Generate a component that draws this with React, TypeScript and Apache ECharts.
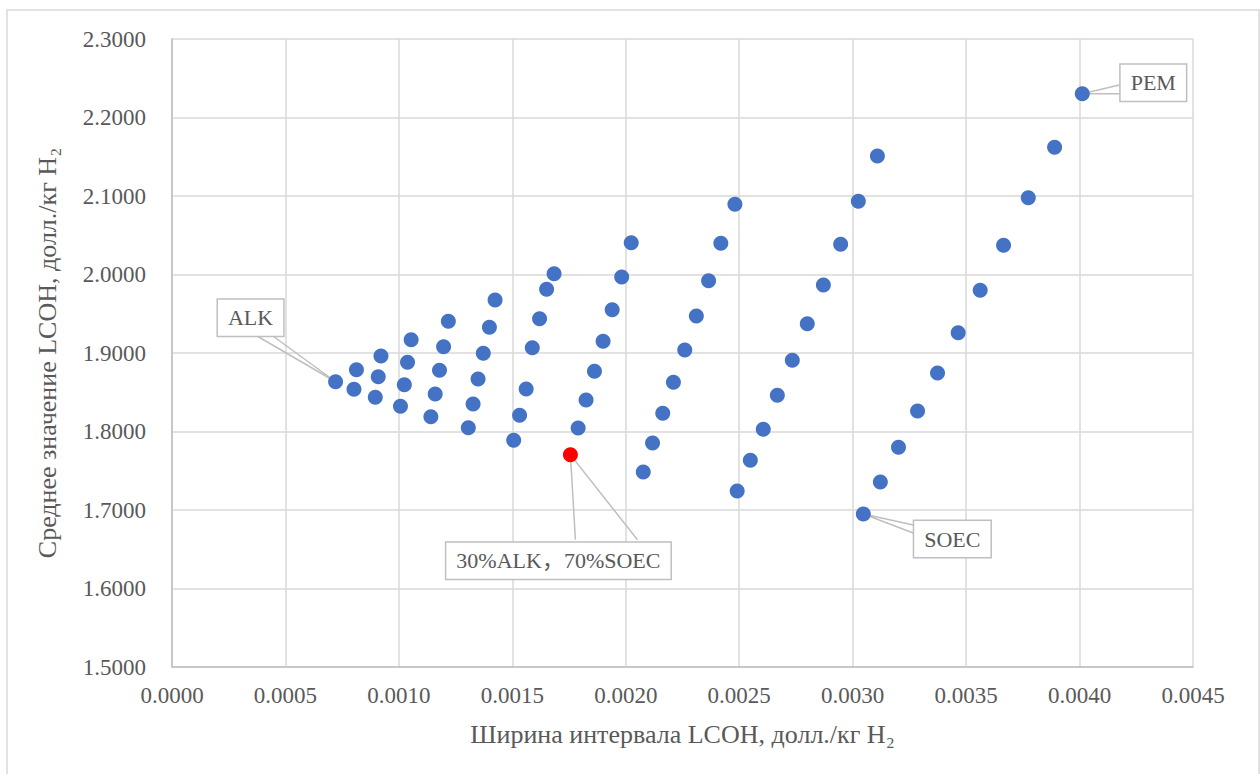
import React, { useEffect, useRef } from 'react';
import * as echarts from 'echarts';

// Interval width of LCOH (x) and mean LCOH (y), grouped by ALK share (100% → 0%)
const intervalWidth = [
  0.000721,
  0.000802, 0.000813,
  0.000896, 0.000909, 0.000921,
  0.001007, 0.001024, 0.001038, 0.001054,
  0.001141, 0.00116, 0.001179, 0.001197, 0.001218,
  0.001306, 0.001327, 0.001349, 0.001372, 0.001399, 0.001424,
  0.001506, 0.001532, 0.001561, 0.001588, 0.00162, 0.001651, 0.001684,
  0.001756, 0.00179, 0.001825, 0.001862, 0.0019, 0.00194, 0.001982, 0.002024,
  0.002077, 0.002118, 0.002163, 0.00221, 0.00226, 0.002311, 0.002365, 0.002419, 0.002481,
  0.002491, 0.002549, 0.002606, 0.002668, 0.002734, 0.0028, 0.002871, 0.002947, 0.003025, 0.003109,
  0.003047, 0.003122, 0.003202, 0.003286, 0.003374, 0.003465, 0.003562, 0.003665, 0.003774, 0.00389, 0.004012,
];
const meanLcoh = [
  1.8634,
  1.8538, 1.8787,
  1.8436, 1.8698, 1.8962,
  1.8321, 1.8596, 1.8881, 1.9169,
  1.8188, 1.8478, 1.878, 1.908, 1.9404,
  1.8048, 1.835, 1.8669, 1.8996, 1.9327, 1.9675,
  1.7888, 1.8206, 1.8541, 1.9067, 1.9437, 1.9811, 2.001,
  1.7704, 1.8045, 1.8401, 1.8767, 1.9149, 1.9552, 1.9968, 2.0405,
  1.7484, 1.7853, 1.8232, 1.8627, 1.9038, 1.9471, 1.9921, 2.0397, 2.0894,
  1.7242, 1.7633, 1.8028, 1.8461, 1.8907, 1.9373, 1.9866, 2.0385, 2.0932, 2.151,
  1.6949, 1.7357, 1.7799, 1.8261, 1.8745, 1.9259, 1.9799, 2.0372, 2.0978, 2.162, 2.2303,
];
const labelNames = ['ALK', '30%ALK，70%SOEC', 'SOEC', 'PEM'];
const labelIndices = [0, 28, 55, 65];
const highlightIndex = 28;

const xTicks = { min: 0, max: 0.0045, interval: 0.0005 };
const yTicks = { min: 1.5, max: 2.3, interval: 0.1 };

const xTitle = 'Ширина интервала LCOH, долл./кг H₂';
const yTitle = 'Среднее значение LCOH, долл./кг H₂';

const FONT = "'Liberation Serif', 'Times New Roman', 'Noto Sans CJK SC', serif";
const TEXT = '#595959';

// label placement (px, relative to the point): box offset and wedge-shaped leader base points
const labelPlacement: Record<number, { d: [number, number]; a: [number, number]; b: [number, number] }> = {
  0: { d: [-85, -64], a: [-79, -46], b: [-63, -46] },
  28: { d: [-12, 106], a: [5, 85], b: [67, 85] },
  55: { d: [89, 25], a: [50, 11], b: [50, 19] },
  65: { d: [71, -11], a: [38, -9], b: [38, 0] },
};

export default function App() {
  const ref = useRef<HTMLDivElement>(null);
  useEffect(() => {
    const chart = echarts.init(ref.current!, null, { renderer: 'svg' });
    const data = intervalWidth.map((x, i) => {
      const li = labelIndices.indexOf(i);
      const item: any = { value: [x, meanLcoh[i]] };
      if (i === highlightIndex) item.itemStyle = { color: '#FF0000' };
      if (li >= 0) {
        item.label = {
          show: true,
          formatter: labelNames[li],
          position: 'inside',
          color: TEXT,
          fontSize: 22,
          fontFamily: FONT,
          backgroundColor: '#ffffff',
          borderColor: '#bfbfbf',
          borderWidth: 1.5,
          padding: [7, 10],
        };
      }
      return item;
    });
    const border = {
      type: 'rect',
      silent: true,
      z: -10,
      shape: { x: 7, y: 10, width: 1252, height: 800 },
      style: { fill: 'none', stroke: '#d9d9d9', lineWidth: 1.5 },
    };
    chart.setOption({
      animation: false,
      backgroundColor: '#ffffff',
      graphic: [border],
      grid: { left: 172, top: 39, width: 1021, height: 628 },
      xAxis: {
        type: 'value',
        min: xTicks.min,
        max: xTicks.max,
        interval: xTicks.interval,
        name: xTitle,
        nameLocation: 'middle',
        nameGap: 54,
        nameTextStyle: { color: TEXT, fontSize: 26, fontFamily: FONT },
        axisLine: { show: true, lineStyle: { color: '#bfbfbf', width: 1.5 } },
        axisTick: { show: false },
        axisLabel: {
          color: TEXT,
          fontSize: 23,
          fontFamily: FONT,
          margin: 17,
          formatter: (v: number) => v.toFixed(4),
        },
        splitLine: { show: true, lineStyle: { color: '#d9d9d9', width: 1.5 } },
      },
      yAxis: {
        type: 'value',
        min: yTicks.min,
        max: yTicks.max,
        interval: yTicks.interval,
        name: yTitle,
        nameLocation: 'middle',
        nameGap: 112,
        nameTextStyle: { color: TEXT, fontSize: 26, fontFamily: FONT },
        axisLine: { show: true, lineStyle: { color: '#bfbfbf', width: 1.5 } },
        axisTick: { show: false },
        axisLabel: {
          color: TEXT,
          fontSize: 23,
          fontFamily: FONT,
          margin: 26,
          formatter: (v: number) => v.toFixed(4),
        },
        splitLine: { show: true, lineStyle: { color: '#d9d9d9', width: 1.5 } },
      },
      series: [
        {
          type: 'scatter',
          symbol: 'circle',
          symbolSize: 15,
          z: 3,
          itemStyle: { color: '#4472C4', opacity: 1 },
          label: { show: false },
          labelLayout: (params: any) => {
            const p = labelPlacement[params.dataIndex];
            if (!p) return {};
            return { dx: p.d[0], dy: p.d[1] };
          },
          data,
        },
      ],
    });
    // wedge-shaped leader lines, anchored at the points through the chart's own scales
    const leaders = labelIndices.map((idx) => {
      const [cx, cy] = chart.convertToPixel({ gridIndex: 0 }, [intervalWidth[idx], meanLcoh[idx]]) as number[];
      const p = labelPlacement[idx];
      return {
        type: 'polyline',
        silent: true,
        z: 2,
        shape: {
          points: [
            [cx + p.a[0], cy + p.a[1]],
            [cx, cy],
            [cx + p.b[0], cy + p.b[1]],
          ],
        },
        style: { fill: 'none', stroke: '#bfbfbf', lineWidth: 1.5 },
      };
    });
    chart.setOption({ graphic: [border, ...leaders] });
    return () => chart.dispose();
  }, []);
  return (
    <div
      ref={ref}
      style={{ position: 'absolute', left: 0, top: 0, width: 1260, height: 774, background: '#fff' }}
    />
  );
}
